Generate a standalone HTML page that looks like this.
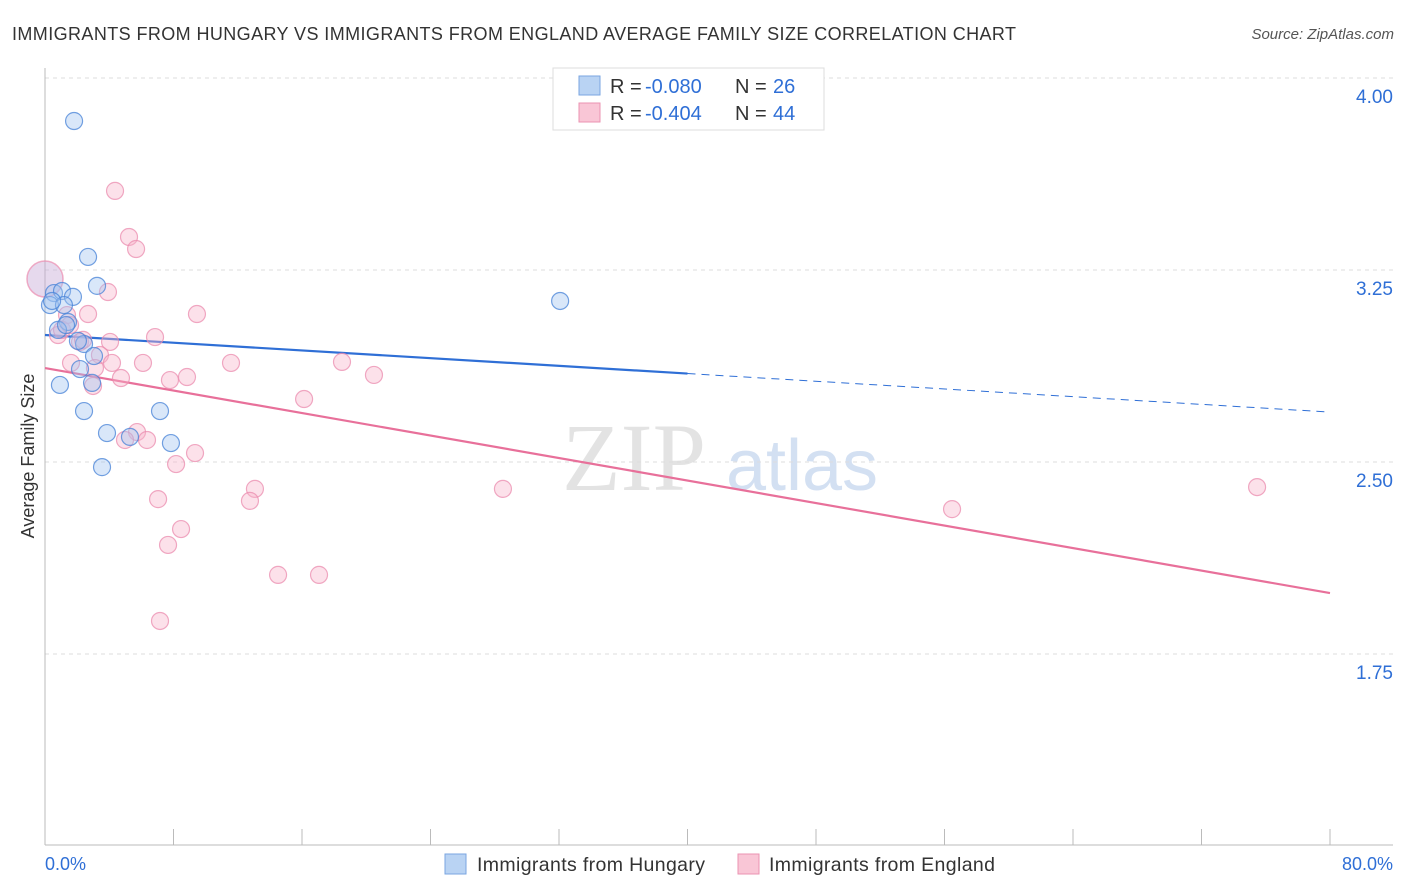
<!DOCTYPE html>
<html><head><meta charset="utf-8"><style>
body{margin:0;background:#fff;font-family:"Liberation Sans",sans-serif;}
svg{display:block}
</style></head><body>
<svg id="chart" width="1406" height="892" xmlns="http://www.w3.org/2000/svg">
<text x="12" y="40" font-size="18" fill="#333" textLength="1004">IMMIGRANTS FROM HUNGARY VS IMMIGRANTS FROM ENGLAND AVERAGE FAMILY SIZE CORRELATION CHART</text>
<text x="1394" y="39" font-size="15" fill="#555" font-style="italic" text-anchor="end">Source: ZipAtlas.com</text>
<text x="34" y="456" font-size="18" fill="#333" text-anchor="middle" transform="rotate(-90 34 456)">Average Family Size</text>
<g><text x="634" y="490" font-size="96" font-family="Liberation Serif,serif" fill="#ddd" text-anchor="middle" opacity="0.8">ZIP</text><text x="802" y="490" font-size="72" fill="#c9d9f0" text-anchor="middle" opacity="0.8">atlas</text></g>
<g id="grid"></g><g id="axes"></g><g id="lines"></g><g id="pts"></g>
<g>
<rect x="553" y="68" width="271" height="62" fill="#fff" stroke="#ddd"/>
<rect x="579" y="76" width="21" height="19" fill="#b9d3f3" stroke="#7aa6e0"/>
<rect x="579" y="103" width="21" height="19" fill="#f9c6d6" stroke="#eb93b2"/>
<text x="610" y="93" font-size="20" fill="#333">R =</text><text x="645" y="93" font-size="20" fill="#2f6fd6">-0.080</text><text x="735" y="93" font-size="20" fill="#333">N =</text><text x="773" y="93" font-size="20" fill="#2f6fd6">26</text>
<text x="610" y="120" font-size="20" fill="#333">R =</text><text x="645" y="120" font-size="20" fill="#2f6fd6">-0.404</text><text x="735" y="120" font-size="20" fill="#333">N =</text><text x="773" y="120" font-size="20" fill="#2f6fd6">44</text>
</g>
<g>
<rect x="445" y="854" width="21" height="20" fill="#b9d3f3" stroke="#7aa6e0"/>
<text x="477" y="871" font-size="19.5" fill="#333" textLength="228">Immigrants from Hungary</text>
<rect x="738" y="854" width="21" height="20" fill="#f9c6d6" stroke="#eb93b2"/>
<text x="769" y="871" font-size="19.5" fill="#333" textLength="226">Immigrants from England</text>
</g>
<text x="45" y="870" font-size="18" fill="#2f6fd6">0.0%</text>
<text x="1393" y="870" font-size="18" fill="#2f6fd6" text-anchor="end">80.0%</text>
</svg>
<script>
const yTicks=[4.00,3.25,2.50,1.75];
const yTickLabels=["4.00","3.25","2.50","1.75"];
const hungaryX=[1.81,2.68,3.24,0.56,1.06,1.74,0.31,1.18,1.43,0.81,2.43,3.05,2.18,2.93,0.93,2.43,7.16,3.86,5.29,7.84,3.55,32.07,1.31,0.44,2.05];
const hungaryY=[3.832,3.301,3.188,3.160,3.168,3.145,3.113,3.113,3.047,3.016,2.961,2.914,2.863,2.809,2.801,2.699,2.699,2.613,2.598,2.574,2.480,3.129,3.035,3.129,2.973];
const englandX=[4.36,5.23,5.67,3.92,9.46,2.68,6.85,1.37,0.81,2.18,4.05,3.42,1.62,4.17,6.10,11.58,18.49,20.48,4.73,7.78,8.84,2.99,16.13,5.73,4.98,6.35,9.34,8.16,7.04,28.51,13.07,12.76,75.46,56.47,8.47,7.66,14.51,17.06,7.16,1.06,3.11,2.37,1.56];
const englandY=[3.559,3.379,3.332,3.164,3.078,3.078,2.988,3.074,2.996,2.969,2.969,2.918,2.887,2.887,2.887,2.887,2.891,2.840,2.828,2.820,2.832,2.797,2.746,2.617,2.586,2.586,2.535,2.492,2.355,2.395,2.395,2.348,2.402,2.316,2.238,2.176,2.059,2.059,1.879,3.016,2.867,2.977,3.035];
const bigPoint=[0,3.215];
const hungaryTrend=[2.996,2.695];
const englandTrend=[2.867,1.988];
const NS="http://www.w3.org/2000/svg";
const xs=v=>45+v/80*1285, ys=v=>78+(4-v)*256;
function mk(tag,attrs,parent){const e=document.createElementNS(NS,tag);for(const k in attrs)e.setAttribute(k,attrs[k]);document.getElementById(parent).appendChild(e);return e;}
yTicks.forEach((t,i)=>{
 const g=mk('line',{x1:45,x2:1393,y1:ys(t),y2:ys(t),stroke:'#ddd','stroke-dasharray':'4,4'},'grid');
 
 
 const l=mk('text',{x:1393,y:ys(t)+25,'font-size':19,fill:'#2f6fd6','text-anchor':'end'},'grid');
 l.textContent=yTickLabels[i];
 
 
});
const ax=mk('line',{x1:45,x2:45,y1:68,y2:845,stroke:'#bbb'},'axes');


const bx=mk('line',{x1:45,x2:1393,y1:845,y2:845,stroke:'#bbb'},'axes');


for(let i=0;i<=10;i++){const t=mk('line',{x1:xs(i*8),x2:xs(i*8),y1:829,y2:845,stroke:'#bbb'},'axes');
 
 }
const at=(tr,x)=>tr[0]+(tr[1]-tr[0])*x/80;
let l1=mk('line',{x1:xs(0),y1:ys(at(hungaryTrend,0)),x2:xs(40),y2:ys(at(hungaryTrend,40)),stroke:'#2f6fd6','stroke-width':2.2},'lines');


let l2=mk('line',{x1:xs(40),y1:ys(at(hungaryTrend,40)),x2:xs(80),y2:ys(at(hungaryTrend,80)),stroke:'#2f6fd6','stroke-width':1,'stroke-dasharray':'8,6'},'lines');


let l3=mk('line',{x1:xs(0),y1:ys(englandTrend[0]),x2:xs(80),y2:ys(englandTrend[1]),stroke:'#e8709a','stroke-width':2.2},'lines');


const bp=mk('circle',{cx:xs(bigPoint[0]),cy:ys(bigPoint[1]),r:18,fill:'rgba(200,170,215,0.45)',stroke:'rgba(235,140,175,0.7)','stroke-width':1.5},'pts');


englandX.forEach((x,i)=>{const c=mk('circle',{cx:xs(x),cy:ys(englandY[i]),r:8.5,fill:'rgba(247,180,203,0.4)',stroke:'rgba(235,140,175,0.75)','stroke-width':1.2},'pts');
 
 });
hungaryX.forEach((x,i)=>{const c=mk('circle',{cx:xs(x),cy:ys(hungaryY[i]),r:8.5,fill:'rgba(160,195,240,0.4)',stroke:'rgba(70,130,215,0.75)','stroke-width':1.2},'pts');
 
 });
</script>
</body></html>
